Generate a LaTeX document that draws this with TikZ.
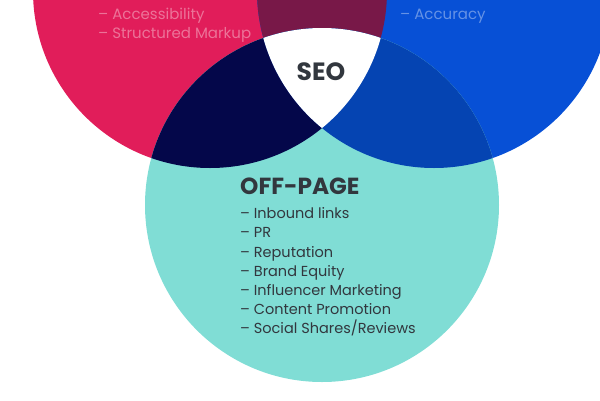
\documentclass[tikz,border=0pt]{standalone}
\usepackage{fontspec}
\setmainfont{Poppins}
\definecolor{seored}{RGB}{225,29,90}
\definecolor{seoblue}{RGB}{7,80,214}
\definecolor{seoteal}{RGB}{128,221,213}
\definecolor{seomaroon}{RGB}{120,24,72}
\definecolor{seonavy}{RGB}{4,7,74}
\definecolor{seomid}{RGB}{5,68,178}
\definecolor{seotext}{RGB}{50,55,62}
\tikzset{
  circ/.style={radius=177pt},
  head/.style={anchor=base west, inner sep=0pt, text=seotext, font=\fontsize{23.3}{24}\selectfont\bfseries},
  item/.style={anchor=base west, inner sep=0pt, text=seotext, font=\fontsize{14.5}{15}\selectfont},
  faded/.style={anchor=base west, inner sep=0pt, text=white, text opacity=0.38, font=\fontsize{15}{15}\selectfont}
}
\begin{document}
\begin{tikzpicture}[x=1pt,y=-1pt]
\useasboundingbox (0,0) rectangle (600,400);
\clip (0,0) rectangle (600,400);
\coordinate (cr) at (210,-9);
\coordinate (cb) at (434,-9);
\coordinate (ct) at (322,205);
\fill[seored] (cr) circle[circ];
\fill[seoblue] (cb) circle[circ];
\fill[seoteal] (ct) circle[circ];
\begin{scope}
  \clip (cr) circle[circ];
  \fill[seomaroon] (cb) circle[circ];
  \fill[seonavy] (ct) circle[circ];
\end{scope}
\begin{scope}
  \clip (cb) circle[circ];
  \fill[seomid] (ct) circle[circ];
  \clip (cr) circle[circ];
  \fill[white] (ct) circle[circ];
\end{scope}
% blurred top texts
\node[faded] (acc) at (98,19) {– Accessibility};
\node[faded] (str) at (98,38) {– Structured Markup};
\node[faded] (acu) at (400,19) {– Accuracy};
% centre
\node[anchor=base, inner sep=0pt, text=seotext, font=\fontsize{25}{25}\selectfont\bfseries] (seo) at (321,80) {SEO};
% off-page list
\node[head] (off) at (240,194) {OFF-PAGE};
\node[item] (l1) at (240,218) {– Inbound links};
\node[item] (l2) at (240,237) {– PR};
\node[item] (l3) at (240,257) {– Reputation};
\node[item] (l4) at (240,276) {– Brand Equity};
\node[item] (l5) at (240,295) {– Influencer Marketing};
\node[item] (l6) at (240,314) {– Content Promotion};
\node[item] (l7) at (240,333) {– Social Shares/Reviews};
\end{tikzpicture}
\end{document}
